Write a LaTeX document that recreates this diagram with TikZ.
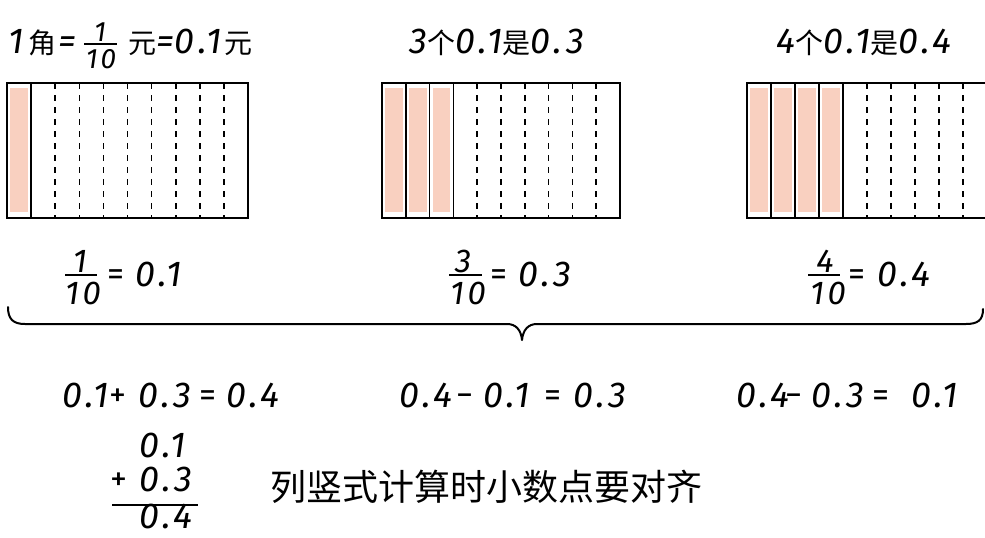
\documentclass[tikz,border=0pt]{standalone}
\usepackage{fontspec}
\newfontfamily\handfont{Fira Sans}[LetterSpace=10]
\newfontfamily\cjkfont{Noto Sans CJK SC}
\definecolor{peach}{RGB}{249,208,192}
\newcommand\zi[1]{{\cjkfont\fontsize{28}{28}\selectfont #1}}
\begin{document}
\begin{tikzpicture}[x=1pt,y=-1pt,
  eq/.style={font=\handfont\itshape\fontsize{36}{36}\selectfont, inner sep=0pt, anchor=base west},
  op/.style={font=\handfont\fontsize{34}{34}\selectfont, inner sep=0pt, anchor=base west},
  num/.style={font=\handfont\itshape\fontsize{33}{33}\selectfont, inner sep=0pt, anchor=base},
  zh/.style={font=\cjkfont\fontsize{36}{36}\selectfont, inner sep=0pt},
  frame/.style={line width=1.8pt},
  sepline/.style={line width=1.6pt},
  dline/.style={line width=1.6pt, dash pattern=on 6pt off 6pt},
  fracbar/.style={line width=1.8pt},
  brace/.style={line width=2pt, line cap=round, line join=round},
]
\useasboundingbox[fill=white] (0,0) rectangle (985,538);

% ---- top captions ----
\node[eq] (t1a) at (8,53) {1\hspace{5pt}\zi{角}\hspace{2pt}=};
\node[num, font=\handfont\itshape\fontsize{28}{28}\selectfont] (t1n) at (100,41) {1};
\draw[fracbar] (84,44) -- (117,44);
\node[num, font=\handfont\itshape\fontsize{28}{28}\selectfont] (t1d) at (101,68) {10};
\node[eq] (t1b) at (128,53) {\zi{元}=\hspace{1pt}0.1\hspace{2pt}\zi{元}};
\node[eq, anchor=base] (t2) at (497,53) {3\zi{个}0.1\zi{是}0.3};
\node[eq, anchor=base] (t3) at (864,53) {4\zi{个}0.1\zi{是}0.4};

% ---- grids ----
\begin{scope}
\clip (0,0) rectangle (985,538);
\foreach \x/\w/\k in {7/24.1/1, 382/23.8/3, 747/24/4}{
  \foreach \i in {1,...,\k}{
    \fill[peach] ({\x+(\i-1)*\w+3},88) rectangle ({\x+\i*\w-3},212);
    \draw[sepline] ({\x+\i*\w},83) -- ({\x+\i*\w},218);
  }
  \pgfmathtruncatemacro\s{\k+1}
  \foreach \i in {\s,...,9}{
    \draw[dline] ({\x+\i*\w},83) -- ({\x+\i*\w},218);
  }
  \draw[frame] (\x,83) rectangle ({\x+10*\w},218);
}
\end{scope}

% ---- fractions ----
\node[num] (f1n) at (80,272) {1};
\draw[fracbar] (65,275) -- (97,275);
\node[num] (f1d) at (83,304) {10};
\node[op] (f1q) at (107,285) {=};
\node[eq] (f1e) at (135,286) {0.1};

\node[num] (f2n) at (463,272) {3};
\draw[fracbar] (449,275) -- (482,275);
\node[num] (f2d) at (468,304) {10};
\node[op] (f2q) at (490,285) {=};
\node[eq] (f2e) at (518,286) {0.3};

\node[num] (f3n) at (825,272) {4};
\draw[fracbar] (808,275) -- (840,275);
\node[num] (f3d) at (828,304) {10};
\node[op] (f3q) at (848,285) {=};
\node[eq] (f3e) at (877,286) {0.4};

% ---- brace ----
\draw[brace] (8,307) .. controls (8,319) and (13,324) .. (25,324) -- (507,324)
  .. controls (516,324) and (521,330) .. (522,340)
  .. controls (523,330) and (528,324) .. (537,324) -- (966,324)
  .. controls (978,324) and (983,320) .. (983,309);

% ---- equations ----
\node[eq] (e1a) at (62,407) {0.1};
\node[op] (e1b) at (109,406) {+};
\node[eq] (e1c) at (138,407) {0.3};
\node[op] (e1d) at (199,406) {=};
\node[eq] (e1e) at (226,407) {0.4};

\node[eq] (e2a) at (399,407) {0.4};
\node[op] (e2b) at (456,406) {−};
\node[eq] (e2c) at (483,407) {0.1};
\node[op] (e2d) at (544,406) {=};
\node[eq] (e2e) at (573,407) {0.3};

\node[eq] (e3a) at (736,407) {0.4};
\node[op] (e3b) at (785,406) {−};
\node[eq] (e3c) at (811,407) {0.3};
\node[op] (e3d) at (872,406) {=};
\node[eq] (e3e) at (911,407) {0.1};

% ---- vertical form ----
\node[eq] (v1) at (139,457) {0.1};
\node[op] (v2a) at (110,490) {+};
\node[eq] (v2b) at (139,491) {0.3};
\draw[fracbar] (112,505) -- (198,505);
\node[eq] (v3) at (139,528) {0.4};

\node[zh, anchor=west] (note) at (270,487) {列竖式计算时小数点要对齐};
\end{tikzpicture}
\end{document}
